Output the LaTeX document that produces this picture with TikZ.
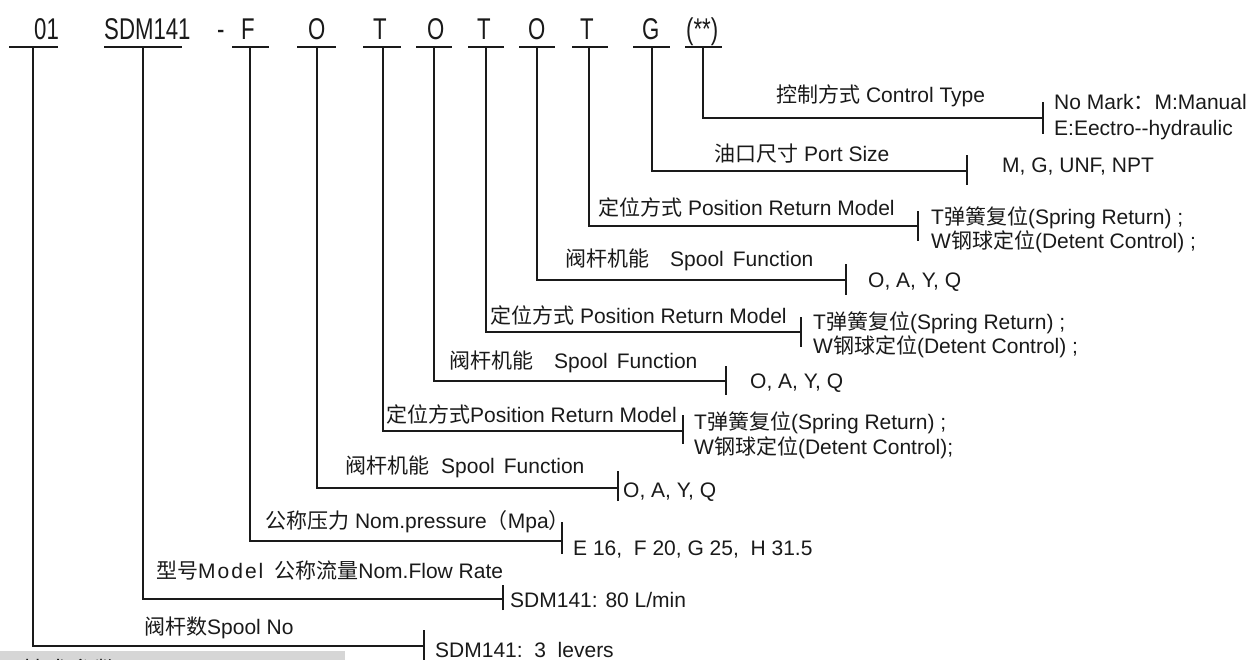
\documentclass[tikz,border=0pt]{standalone}
\usepackage{fontspec}
\setmainfont{Liberation Sans}
\newfontfamily\cjk{Noto Sans CJK SC}
\newfontfamily\topfont[FakeStretch=0.74]{Liberation Sans}
\definecolor{ink}{HTML}{1A1A1A}
\definecolor{barbg}{HTML}{D6D6D6}
\begin{document}
\begin{tikzpicture}[x=1pt,y=-1pt,
  lbl/.style={anchor=base west, inner sep=0pt, font=\fontsize{21}{25}\selectfont, text=ink},
  topt/.style={anchor=base west, inner sep=0pt, font=\topfont\fontsize{30}{34}\selectfont, text=ink},
  ln/.style={line width=1.5pt, draw=ink},
  tk/.style={line width=1.5pt, draw=ink},
]
\useasboundingbox (0,0) rectangle (1254,660);
\fill[white] (0,0) rectangle (1254,660);

% bottom-left bar with cut-off heading
\begin{scope}
\clip (0,0) rectangle (1254,660);
\fill[barbg] (0,651) rectangle (345,660);
\node[anchor=base west, inner sep=0pt, font=\cjk\fontsize{24}{28}\selectfont, text=ink] (bartitle) at (22,679) {技术参数};
\end{scope}

% top code row
\node[topt] (c01) at (34,40) {01};
\node[topt] (cSDM) at (104,40) {SDM141};
\node[topt] (cdash) at (217,40) {-};
\node[topt] (cF) at (241,40) {F};
\node[topt] (cO1) at (308,40) {O};
\node[topt] (cT1) at (373,40) {T};
\node[topt] (cO2) at (427,40) {O};
\node[topt] (cT2) at (477,40) {T};
\node[topt] (cO3) at (528,40) {O};
\node[topt] (cT3) at (580,40) {T};
\node[topt] (cG) at (642,40) {G};
\node[topt] (cX) at (686,40) {(**)};

% underlines
\foreach \a/\b in {9/58,104/182,232/269,297/336,363/401,416/452,468/504,519/555,572/608,633/670,685/722}
  \draw[ln] (\a,47) -- (\b,47);

% branch anchor coordinates (top of vertical, corner, tick)
\coordinate (v01) at (33,47);
\coordinate (vSDM) at (143,47);
\coordinate (vF) at (250,47);
\coordinate (vO1) at (317,47);
\coordinate (vT1) at (383,47);
\coordinate (vO2) at (434,47);
\coordinate (vT2) at (486,47);
\coordinate (vO3) at (537,47);
\coordinate (vT3) at (589,47);
\coordinate (vG) at (652,47);
\coordinate (vX) at (703,47);

\coordinate (kX) at (1043,118);
\coordinate (kG) at (967,171);
\coordinate (kT3) at (918,226);
\coordinate (kO3) at (846,280);
\coordinate (kT2) at (801,332);
\coordinate (kO2) at (726,381);
\coordinate (kT1) at (683,431);
\coordinate (kO1) at (618,488);
\coordinate (kF) at (562,541);
\coordinate (kSDM) at (503,599);
\coordinate (k01) at (424,646);

\draw[ln] (vX) |- (kX);
\draw[ln] (vG) |- (kG);
\draw[ln] (vT3) |- (kT3);
\draw[ln] (vO3) |- (kO3);
\draw[ln] (vT2) |- (kT2);
\draw[ln] (vO2) |- (kO2);
\draw[ln] (vT1) |- (kT1);
\draw[ln] (vO1) |- (kO1);
\draw[ln] (vF) |- (kF);
\draw[ln] (vSDM) |- (kSDM);
\draw[ln] (v01) |- (k01);

% ticks
\draw[tk] ([yshift=-16pt]kX) -- ([yshift=16pt]kX);
\draw[tk] ([yshift=-14pt]kG) -- ([yshift=16pt]kG);
\draw[tk] ([yshift=-15pt]kT3) -- ([yshift=15pt]kT3);
\draw[tk] ([yshift=-15pt]kO3) -- ([yshift=16pt]kO3);
\draw[tk] ([yshift=-15pt]kT2) -- ([yshift=15pt]kT2);
\draw[tk] ([yshift=-14pt]kO2) -- ([yshift=15pt]kO2);
\draw[tk] ([yshift=-13pt]kT1) -- ([yshift=16pt]kT1);
\draw[tk] ([yshift=-13pt]kO1) -- ([yshift=17pt]kO1);
\draw[tk] ([yshift=-13pt]kF) -- ([yshift=19pt]kF);
\draw[tk] ([yshift=-11pt]kSDM) -- ([yshift=14pt]kSDM);
\draw[tk] ([yshift=-14pt]k01) -- ([yshift=16pt]k01);

% labels above lines
\node[lbl] (lX) at (776,103) {{\cjk 控制方式} Control Type};
\node[lbl] (lG) at (714,162) {{\cjk 油口尺寸}\hspace{6pt}Port Size};
\node[lbl] (lT3) at (598,216) {{\cjk 定位方式} Position Return Model};
\node[lbl] (lO3) at (565,267) {{\cjk 阀杆机能}\hspace{21pt}Spool\hspace{9pt}Function};
\node[lbl] (lT2) at (490,324) {{\cjk 定位方式} Position Return Model};
\node[lbl] (lO2) at (449,369) {{\cjk 阀杆机能}\hspace{21pt}Spool\hspace{9pt}Function};
\node[lbl] (lT1) at (386,423) {{\cjk 定位方式}Position Return Model};
\node[lbl] (lO1) at (345,474) {{\cjk 阀杆机能}\hspace{12pt}Spool\hspace{9pt}Function};
\node[lbl] (lF) at (265,528) {{\cjk 公称压力} Nom.pressure{\cjk （}Mpa{\cjk ）}};
\node[lbl] (lSDM) at (156,578) {{\cjk 型号}M\kern2pt o\kern2pt d\kern2pt e\kern2pt l\hspace{11pt}{\cjk 公称流量}Nom.Flow Rate};
\node[lbl] (l01) at (144,634) {{\cjk 阀杆数}Spool No};

% option texts right of ticks
\node[lbl] (oXa) at (1054,110) {No Mark{\cjk ：}M:Manual};
\node[lbl] (oXb) at (1054,136) {E:Eectro-{}-hydraulic};
\node[lbl] (oG) at (1002,173) {M, G, UNF, NPT};
\node[lbl] (oT3a) at (931,225) {T{\cjk 弹簧复位}(Spring Return) ;};
\node[lbl] (oT3b) at (931,249) {W{\cjk 钢球定位}(Detent Control) ;};
\node[lbl] (oO3) at (868,288) {O, A, Y, Q};
\node[lbl] (oT2a) at (813,330) {T{\cjk 弹簧复位}(Spring Return) ;};
\node[lbl] (oT2b) at (813,354) {W{\cjk 钢球定位}(Detent Control) ;};
\node[lbl] (oO2) at (750,389) {O, A, Y, Q};
\node[lbl] (oT1a) at (694,430) {T{\cjk 弹簧复位}(Spring Return) ;};
\node[lbl] (oT1b) at (694,454) {W{\cjk 钢球定位}(Detent Control);};
\node[lbl] (oO1) at (623,497) {O, A, Y, Q};
\node[lbl] (oF) at (573,555) {E 16,\ \ F 20, G 25,\ \ H 31.5};
\node[lbl] (oSDM) at (510,607) {SDM141: 80 L/min};
\node[lbl] (o01) at (435,657) {SDM141:\ \ 3\ \ levers};
\end{tikzpicture}
\end{document}
